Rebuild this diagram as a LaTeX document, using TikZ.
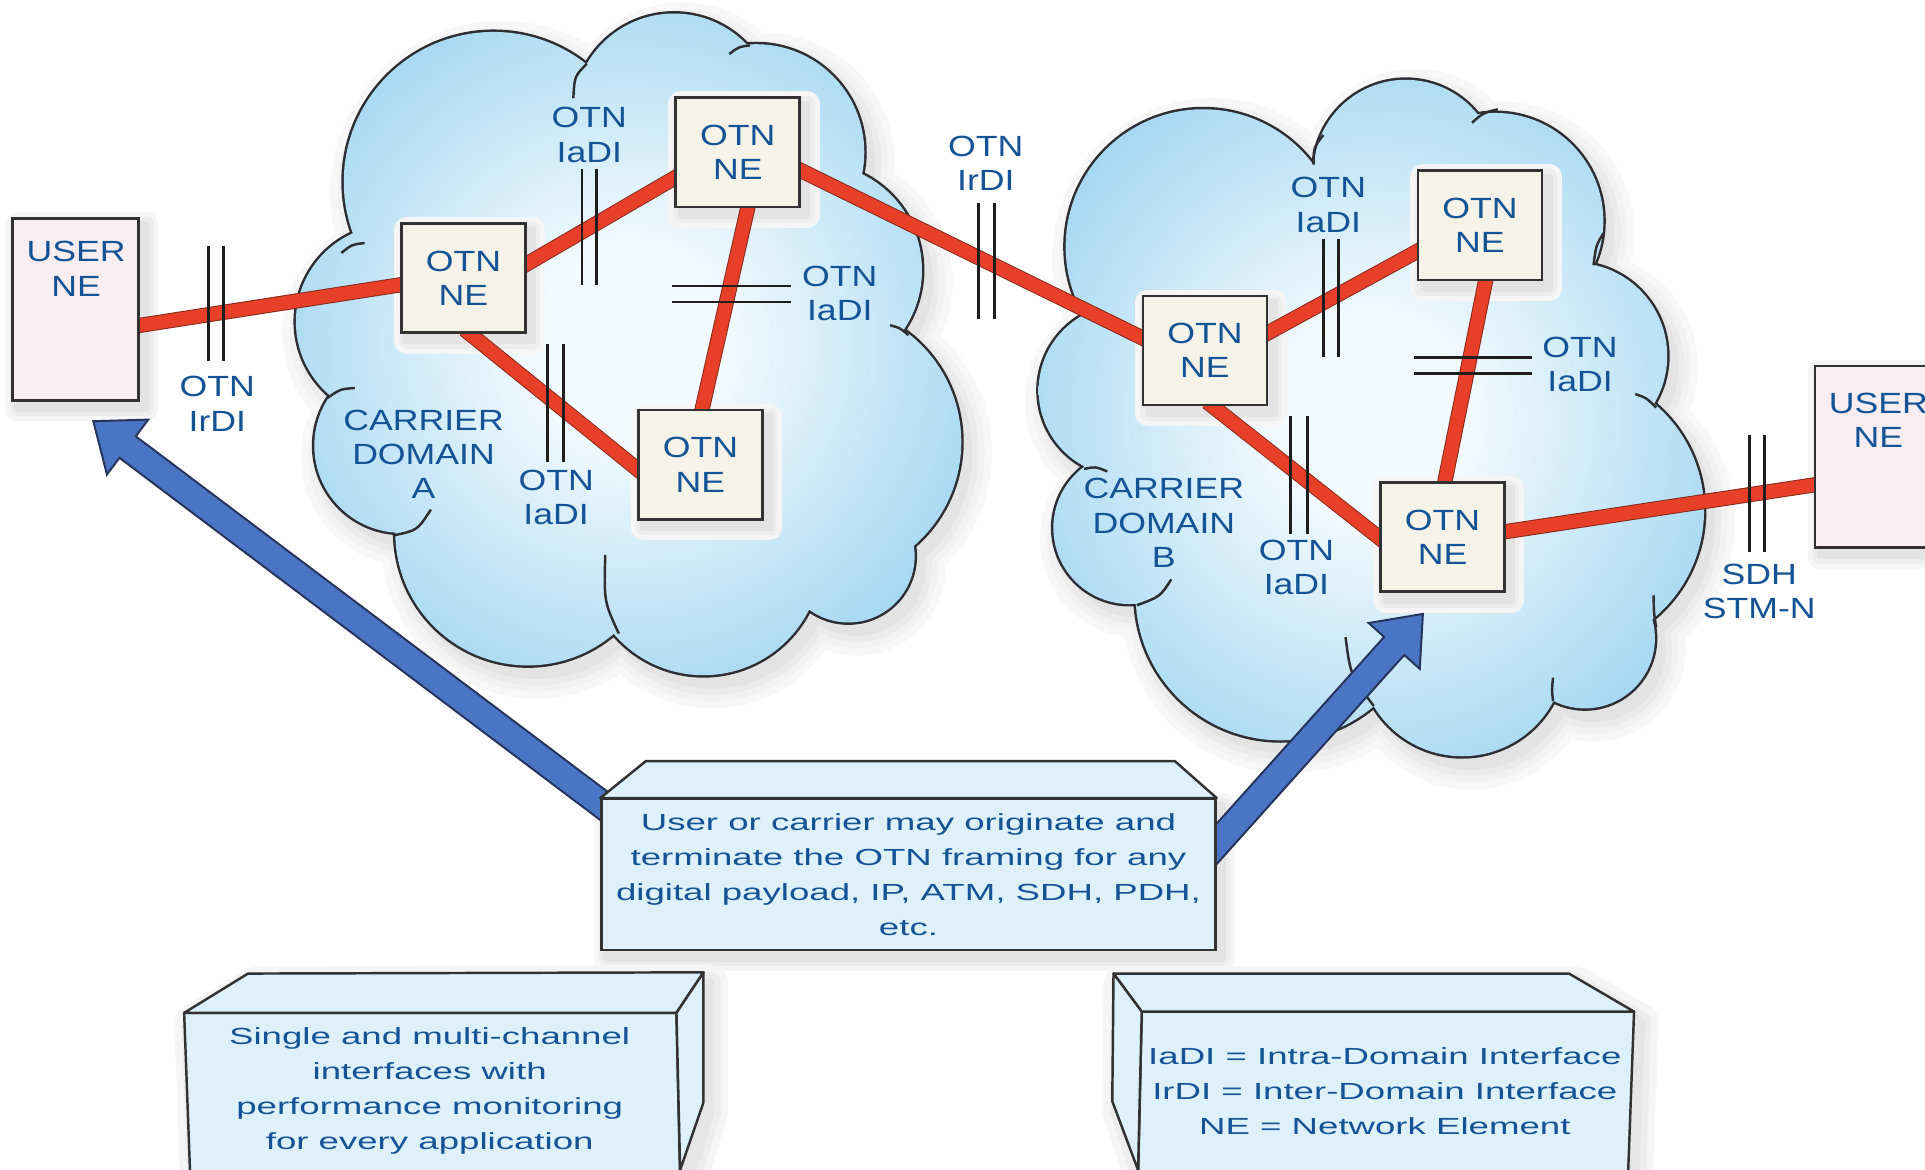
\documentclass[tikz,border=0pt]{standalone}
\usepackage{fontspec}
\setmainfont{Liberation Sans}
\newfontfamily\lblfont[FakeStretch=1.22]{Liberation Sans}
\newfontfamily\bxfont[FakeStretch=1.57]{Liberation Sans}
\usetikzlibrary{calc}
\definecolor{cloudblue}{RGB}{158,213,241}
\definecolor{cloudin}{RGB}{243,250,254}
\definecolor{cloudline}{RGB}{45,45,50}
\definecolor{necream}{RGB}{245,243,232}
\definecolor{userpink}{RGB}{248,237,241}
\definecolor{boxblue}{RGB}{222,240,250}
\definecolor{boxline}{RGB}{50,50,50}
\definecolor{textblue}{RGB}{20,84,150}
\definecolor{linkred}{RGB}{232,64,40}
\definecolor{linkdark}{RGB}{135,42,30}
\definecolor{arrowblue}{RGB}{74,116,196}
\definecolor{arrowdark}{RGB}{38,52,92}
\definecolor{barcol}{RGB}{30,30,30}
\pgfdeclareradialshading{cloudshade}{\pgfpoint{0bp}{0bp}}{color(0bp)=(cloudin); color(7bp)=(cloudin); color(30bp)=(cloudblue); color(50bp)=(cloudblue)}
\pgfdeclarelayer{cloudlayer}
\pgfdeclarelayer{shadowlayer}
\pgfdeclarelayer{linklayer}
\pgfdeclarelayer{arrowlayer}
\pgfsetlayers{cloudlayer,shadowlayer,linklayer,arrowlayer,main}
\newcommand\lblsize{\lblfont\fontsize{11.9}{14}\selectfont}
\newcommand\bxsize{\bxfont\fontsize{9.5}{14.25}\selectfont}
\newcommand\cloudAc{(327,363) circle (71) (320,262) circle (79) (402,148) circle (122) (549,93) circle (82) (616,124) circle (88) (664,220) circle (87) (671,360) circle (112) (691,453) circle (54) (573,454) circle (96) (430,434) circle (108)}
\newcommand\cloudAf{(515,290) circle (190)}
\newcommand\cloudBc{(920,430) circle (62) (916,318) circle (70) (980,201) circle (112) (1145,140) circle (75) (1218,180) circle (88) (1282,290) circle (76) (1274,416) circle (114) (1291,520) circle (57) (1191,532) circle (84) (1043,485) circle (118)}
\newcommand\cloudBf{(1110,340) circle (190)}
\newcommand\nshadow[1]{\foreach \w/\c in {10/4,6/7,2.5/11}{\filldraw[black!\c,line width=\w pt,line join=round,transform canvas={shift={(2.5pt,-3pt)}}] (#1.north west) rectangle (#1.south east);}}
\newcommand\fatarrow[2]{%
  \coordinate (faT) at (#2);
  \coordinate (faS) at (#1);
  \coordinate (faH) at ($(faT)!17.5pt!(faS)$);
  \draw[arrowsty] (faT) -- ($(faH)!14pt!90:(faS)$) -- ($(faH)!5.5pt!90:(faS)$) -- ($(faS)!5.5pt!-90:(faT)$) -- ($(faS)!5.5pt!90:(faT)$) -- ($(faH)!5.5pt!-90:(faS)$) -- ($(faH)!14pt!-90:(faS)$) -- cycle;}
\begin{document}
\begin{tikzpicture}[x=0.5pt,y=-0.5pt,
  ne/.style={draw=boxline, line width=1.1pt, fill=necream, minimum width=50.5pt, minimum height=44.5pt, inner sep=0pt, align=center, text=textblue, font=\lblsize},
  usr/.style={draw=boxline, line width=1.1pt, fill=userpink, minimum width=51.5pt, minimum height=74pt, inner sep=0pt},
  lbl/.style={text=textblue, align=center, inner sep=0pt, font=\lblsize},
  bxt/.style={text=textblue, align=center, inner sep=0pt, font=\bxsize},
  link/.style={draw=linkdark, line width=0.4pt, double=linkred, double distance=5.4pt, shorten <=-3pt, shorten >=-3pt},
  bar/.style={draw=barcol, line width=1.1pt},
  arrowsty/.style={fill=arrowblue, draw=arrowdark, line width=0.8pt, line join=miter},
  face/.style={fill=boxblue, draw=boxline, line width=1pt, line join=round}]
\useasboundingbox (0,0) rectangle (1568,953);

% ---------- nodes ----------
\node[usr] (userL) at (61.5,252) {};
\node[lbl] (userLt) at (62,219) {USER\\NE};
\node[usr] (userR) at (1530,372) {};
\node[lbl] (userRt) at (1530,342.5) {USER\\NE};

\node[ne] (A1) at (377.5,226.5) {OTN\\NE};
\node[ne] (A2) at (601,124) {OTN\\NE};
\node[ne] (A3) at (570.5,378.5) {OTN\\NE};
\node[ne] (B1) at (981.5,285.5) {OTN\\NE};
\node[ne] (B2) at (1205.5,183.5) {OTN\\NE};
\node[ne] (B3) at (1175,437.5) {OTN\\NE};

\node[lbl] (lIrL) at (177,329) {OTN\\IrDI};
\node[lbl] (lA12) at (480,110) {OTN\\IaDI};
\node[lbl] (lA23) at (684,239) {OTN\\IaDI};
\node[lbl] (lA13) at (453,405) {OTN\\IaDI};
\node[lbl] (cA) at (345,370) {CARRIER\\DOMAIN\\A};
\node[lbl] (lIrM) at (803,133) {OTN\\IrDI};
\node[lbl] (lB12) at (1082,167) {OTN\\IaDI};
\node[lbl] (lB23) at (1287,297) {OTN\\IaDI};
\node[lbl] (lB13) at (1056,462) {OTN\\IaDI};
\node[lbl] (cB) at (948,426) {CARRIER\\DOMAIN\\B};
\node[lbl] (lSDH) at (1433,482) {SDH\\STM-N};

% ---------- 3D boxes ----------
% box 2
\draw[face] (150,825) -- (551,825) -- (554,960) -- (155,960) -- cycle;
\draw[face] (150,825) -- (202,793) -- (573,792) -- (551,825) -- cycle;
\draw[face] (551,825) -- (573,792) -- (573,898) -- (554,953) -- cycle;
% box 3
\draw[face] (930,824) -- (1331,824) -- (1326,960) -- (927,960) -- cycle;
\draw[face] (907,793) -- (1278,793) -- (1331,824) -- (930,824) -- cycle;
\draw[face] (907,793) -- (930,824) -- (927,953) -- (906,897) -- cycle;
% box 1
\node[bxt, draw=boxline, fill=boxblue, line width=1pt, minimum width=250pt, minimum height=61.5pt] (msg) at (740,712.5)
  {User or carrier may originate and\\terminate the OTN framing for any\\digital payload, IP, ATM, SDH, PDH,\\etc.};
\draw[face] (msg.north west) -- ($(msg.north west)+(37,-30)$) -- ($(msg.north east)+(-34,-30)$) -- (msg.north east) -- cycle;

\node[bxt] (perf) at (350,889) {Single and multi-channel\\interfaces with\\performance monitoring\\for every application};
\node[bxt] (legend) at (1128,889) {IaDI = Intra-Domain Interface\\IrDI = Inter-Domain Interface\\NE = Network Element};

% ---------- clouds ----------
\begin{pgfonlayer}{cloudlayer}
\fill[white] (0,0) rectangle (1568,953);
\foreach \w/\c in {18/3,12/5,7/8,2/11}{
  \filldraw[black!\c, line width=\w pt, shift={(7,9)}] \cloudAc \cloudAf;
  \filldraw[black!\c, line width=\w pt, shift={(7,9)}] \cloudBc \cloudBf;
}
\draw[cloudline, line width=2pt] \cloudAc;
\draw[cloudline, line width=2pt] \cloudBc;
\shade[shading=cloudshade] \cloudAc \cloudAf;
\shade[shading=cloudshade] \cloudBc \cloudBf;
\draw[cloudline, line width=1pt]
  (351,415) .. controls (340,432) .. (321,436)
  (289,316) .. controls (277,317) .. (267,324)
  (297,198) .. controls (287,199) .. (278,206)
  (467,80) .. controls (468,62) .. (478,52)
  (594,44) .. controls (602,38) .. (611,37)
  (725,265) .. controls (733,267) .. (740,273)
  (493,452) .. controls (492,490) .. (504,516)
  (954,472) .. controls (945,486) .. (926,493)
  (902,384) .. controls (892,380) .. (883,382)
  (1070,134) .. controls (1070,120) .. (1078,110)
  (1199,100) .. controls (1208,92) .. (1220,89)
  (1298,216) .. controls (1300,200) .. (1306,190)
  (1332,321) .. controls (1341,324) .. (1349,332)
  (1347,485) .. controls (1347,498) .. (1349,511)
  (1265,552) .. controls (1264,562) .. (1265,571)
  (1096,519) .. controls (1100,550) .. (1119,575);
\end{pgfonlayer}

% ---------- shadows ----------
\begin{pgfonlayer}{shadowlayer}
\nshadow{userL}\nshadow{userR}
\nshadow{A1}\nshadow{A2}\nshadow{A3}
\nshadow{B1}\nshadow{B2}\nshadow{B3}
\nshadow{msg}
\foreach \w/\c in {14/4,8/7,3/10}{
  \filldraw[black!\c, line width=\w pt, line join=round, shift={(6,8)}]
    (150,825) -- (202,793) -- (573,792) -- (573,898) -- (554,960) -- (155,960) -- cycle;
  \filldraw[black!\c, line width=\w pt, line join=round, shift={(6,8)}]
    (907,793) -- (1278,793) -- (1331,824) -- (1326,960) -- (927,960) -- (906,897) -- cycle;
}
\end{pgfonlayer}

% ---------- links ----------
\begin{pgfonlayer}{linklayer}
\draw[link] ($(userL.east)+(0,13)$) -- ($(A1.west)+(0,5.5)$);
\draw[link] ($(A1.east)+(0,-11.5)$) -- ($(A2.west)+(0,21)$);
\draw[link] ($(A1.south)+(5.5,0)$) -- ($(A3.west)+(0,3.5)$);
\draw[link] ($(A2.south)+(8,0)$) -- ($(A3.north)+(1.5,0)$);
\draw[link] ($(A2.east)+(0,15)$) -- ($(B1.west)+(0,-10.5)$);
\draw[link] ($(B1.east)+(0,-14.5)$) -- ($(B2.west)+(0,21.5)$);
\draw[link] ($(B1.south)+(6.5,0)$) -- ($(B3.west)+(0,0.5)$);
\draw[link] ($(B2.south)+(4.5,0)$) -- ($(B3.north)+(2,0)$);
\draw[link] ($(B3.east)+(0,-4.5)$) -- ($(userR.west)+(0,23)$);
% interface marks
\draw[bar] (170,200) -- (170,294) (182,200) -- (182,294);
\draw[bar] (474,138) -- (474,232) (486,138) -- (486,232);
\draw[bar] (547,233) -- (644,233) (547,246) -- (644,246);
\draw[bar] (446,280) -- (446,376) (459,280) -- (459,376);
\draw[bar] (797,165) -- (797,260) (810,165) -- (810,260);
\draw[bar] (1078,195) -- (1078,291) (1090,195) -- (1090,291);
\draw[bar] (1152,291) -- (1248,291) (1152,304) -- (1248,304);
\draw[bar] (1051,339) -- (1051,435) (1065,339) -- (1065,435);
\draw[bar] (1425,354) -- (1425,450) (1437,354) -- (1437,450);
\end{pgfonlayer}

% ---------- arrows ----------
\begin{pgfonlayer}{arrowlayer}
\coordinate (tipL) at ($(userL.south)+(14.5,16)$);
\coordinate (tailL) at ($(msg.north west)+(13,14)$);
\fatarrow{tailL}{tipL}
\coordinate (tipR) at ($(B3.south)+(-16,17)$);
\coordinate (tailR) at ($(msg.north east)+(-14,53)$);
\fatarrow{tailR}{tipR}
\end{pgfonlayer}
\end{tikzpicture}
\end{document}
